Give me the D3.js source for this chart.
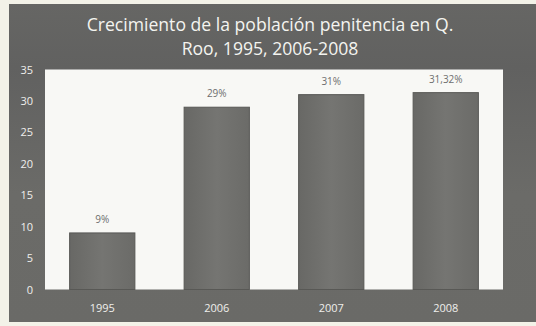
<!DOCTYPE html>
<html>
<head>
<meta charset="utf-8">
<script src="https://cdn.jsdelivr.net/npm/d3@7"></script>
<style>
  html, body { margin: 0; padding: 0; background: #f3f2e8; }
  svg { display: block; }
</style>
</head>
<body>
<svg id="chart" width="536" height="326"></svg>
<script>
// Population growth data
const years = ["1995", "2006", "2007", "2008"];
const values = [9, 29, 31, 31.32];
const valueLabels = ["9%", "29%", "31%", "31,32%"];
const yTicks = [0, 5, 10, 15, 20, 25, 30, 35];
const titleLines = ["Crecimiento de la población penitencia en Q.", "Roo, 1995, 2006-2008"];

const svg = d3.select("#chart");
const W = 536, H = 326;

const defs = svg.append("defs");
const panelGrad = defs.append("linearGradient")
  .attr("id", "panelGrad").attr("x1", 0).attr("y1", 0).attr("x2", 0).attr("y2", 1);
panelGrad.append("stop").attr("offset", "0%").attr("stop-color", "#666664");
panelGrad.append("stop").attr("offset", "20%").attr("stop-color", "#616160");
panelGrad.append("stop").attr("offset", "60%").attr("stop-color", "#6b6b68");
panelGrad.append("stop").attr("offset", "100%").attr("stop-color", "#6a6a67");

const barGrad = defs.append("linearGradient")
  .attr("id", "barGrad").attr("x1", 0).attr("y1", 0).attr("x2", 1).attr("y2", 0);
barGrad.append("stop").attr("offset", "0%").attr("stop-color", "#686865");
barGrad.append("stop").attr("offset", "50%").attr("stop-color", "#757572");
barGrad.append("stop").attr("offset", "100%").attr("stop-color", "#6b6b68");

// outer chart panel
svg.append("rect")
  .attr("x", 9).attr("y", 4).attr("width", W - 9).attr("height", 318)
  .attr("fill", "url(#panelGrad)");

// plot area
const plot = { left: 45, right: 503, top: 69.5, bottom: 289.5 };
svg.append("rect")
  .attr("x", plot.left).attr("y", plot.top)
  .attr("width", plot.right - plot.left).attr("height", plot.bottom - plot.top)
  .attr("fill", "#f8f8f5");

const x = d3.scaleBand().domain(years).range([plot.left, plot.right]).paddingInner(0.43).paddingOuter(0.215);
const y = d3.scaleLinear().domain([0, 35]).range([plot.bottom, plot.top]);

// title
svg.append("g").selectAll("text").data(titleLines).join("text")
  .attr("x", 270).attr("y", (d, i) => 31 + i * 24)
  .attr("text-anchor", "middle")
  .attr("font-family", "'Open Sans', sans-serif")
  .attr("font-size", 17.6)
  .attr("fill", "#f4f4f0")
  .text(d => d);

// bars
const data = years.map((yr, i) => ({ yr, v: values[i], label: valueLabels[i] }));
svg.append("g").selectAll("rect").data(data).join("rect")
  .attr("x", d => x(d.yr))
  .attr("y", d => y(d.v))
  .attr("width", x.bandwidth())
  .attr("height", d => y(0) - y(d.v))
  .attr("fill", "url(#barGrad)")
  .attr("stroke", "#585855")
  .attr("stroke-width", 1);

// value labels
svg.append("g").selectAll("text").data(data).join("text")
  .attr("x", d => x(d.yr) + x.bandwidth() / 2)
  .attr("y", d => y(d.v) - 10)
  .attr("text-anchor", "middle")
  .attr("font-family", "'Open Sans', sans-serif")
  .attr("font-size", 10)
  .attr("fill", "#6e6e6e")
  .text(d => d.label);

// y axis
const yAxis = svg.append("g")
  .attr("transform", `translate(${plot.left},0)`)
  .call(d3.axisLeft(y).tickValues(yTicks).tickSize(0).tickPadding(12));
yAxis.select(".domain").remove();
yAxis.selectAll("text")
  .attr("font-family", "'Open Sans', sans-serif")
  .attr("font-size", 11)
  .attr("fill", "#efefec");

// x axis
const xAxis = svg.append("g")
  .attr("transform", `translate(0,${plot.bottom})`)
  .call(d3.axisBottom(x).tickSize(0).tickPadding(15));
xAxis.select(".domain").remove();
xAxis.selectAll("text")
  .attr("font-family", "'Open Sans', sans-serif")
  .attr("font-size", 11)
  .attr("fill", "#efefec");
</script>
</body>
</html>
